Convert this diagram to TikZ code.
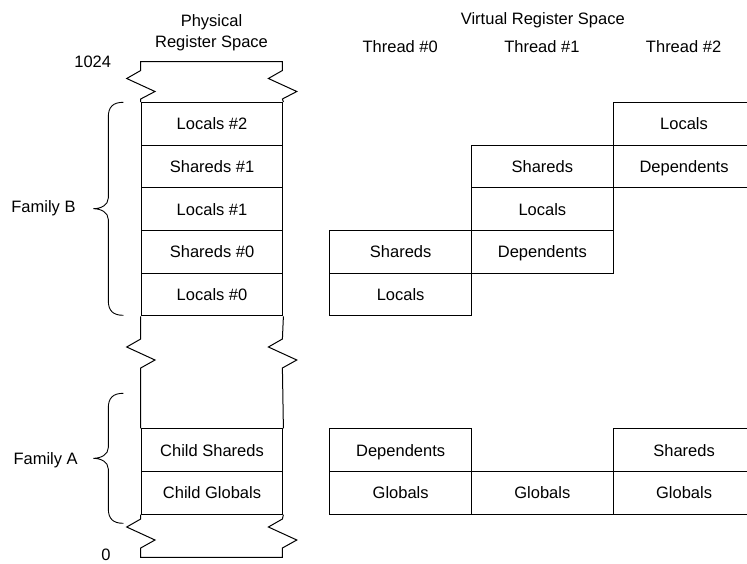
\documentclass[tikz,border=0pt]{standalone}
\usepackage{fontspec}
\setmainfont{Liberation Sans}
\begin{document}
\begin{tikzpicture}[x=1pt,y=-1pt,
  every node/.style={font=\fontsize{16.5}{20.5}\selectfont, text=black},
  cell/.style={draw, line width=1pt, minimum width=141.7pt, minimum height=42.67pt,
               inner sep=0pt, text height=11.9pt, text depth=0pt, anchor=north west},
  outline/.style={line width=1pt, line join=miter},
  brace/.style={line width=0.9pt},
  lbl/.style={inner sep=0pt, text height=11.9pt, text depth=0pt}]
\clip (0,0) rectangle (747,563);

% headers
\node[align=center] (phys) at (211.5,32.5) {Physical\\Register Space};
\node[lbl] (vrs) at (542.8,18.5) {Virtual Register Space};
\node[lbl] (th0) at (400.2,46.5) {Thread \#0};
\node[lbl] (th1) at (541.9,46.5) {Thread \#1};
\node[lbl] (th2) at (683.6,46.5) {Thread \#2};

% physical register space, family B
\node[cell] (pB1) at (140.7,102)    {Locals \#2};
\node[cell] (pB2) at (140.7,144.67) {Shareds \#1};
\node[cell] (pB3) at (140.7,187.33) {Locals \#1};
\node[cell] (pB4) at (140.7,230)    {Shareds \#0};
\node[cell] (pB5) at (140.7,272.67) {Locals \#0};
% physical register space, family A
\node[cell] (pA1) at (140.7,428.33) {Child Shareds};
\node[cell] (pA2) at (140.7,471)    {Child Globals};

% column outline with break marks
\draw[outline] (pB1.north west) -- (140.7,99) -- (155,91.5) -- (126.7,78.5) -- (140.7,70.5)
  -- (140.7,61.7) -- (282.4,61.7) -- (282.4,70.5) -- (268.4,78.5) -- (296.8,91.5)
  -- (282.4,99) -- (pB1.north east);
\draw[outline] (pB5.south west) -- (140.7,339) -- (126.7,347) -- (155,360) -- (140.7,368)
  -- (pA1.north west);
\draw[outline] (pB5.south east) -- (282.4,339) -- (268.4,347) -- (296.8,360) -- (282.4,368)
  -- (pA1.north east);
\draw[outline] (pA2.south west) -- (140.7,519) -- (126.7,527) -- (155,540) -- (140.7,548)
  -- (140.7,557.3) -- (282.4,557.3) -- (282.4,548) -- (296.8,540) -- (268.4,527)
  -- (282.4,519) -- (pA2.south east);

% virtual register space, family B
\node[cell] (v0a) at (329.3,230)    {Shareds};
\node[cell] (v0b) at (329.3,272.67) {Locals};
\node[cell] (v1a) at (471,144.67)   {Shareds};
\node[cell] (v1b) at (471,187.33)   {Locals};
\node[cell] (v1c) at (471,230)      {Dependents};
\node[cell] (v2a) at (612.7,102)    {Locals};
\node[cell] (v2b) at (612.7,144.67) {Dependents};
% virtual register space, family A
\node[cell] (v0c) at (329.3,428.33) {Dependents};
\node[cell] (v0d) at (329.3,471)    {Globals};
\node[cell] (v1d) at (471,471)      {Globals};
\node[cell] (v2c) at (612.7,428.33) {Shareds};
\node[cell] (v2d) at (612.7,471)    {Globals};

% address labels
\node[lbl] (top) at (92.7,61.7) {1024};
\node[lbl] (bot) at (106,554.6) {0};

% family braces
\node[lbl] (famB) at (43.5,206.5) {Family B};
\node[lbl] (famA) at (45.6,459) {Family A};
\coordinate (bBt) at (123.3,102.3);
\coordinate (bBm) at (93.3,208.7);
\coordinate (bBb) at (123.3,315.3);
\draw[brace] (bBt) .. controls (113,102.3) and (108.3,107) .. (108.3,117)
  -- (108.3,198) .. controls (108.3,205) and (101,208.7) .. (bBm)
  .. controls (101,208.7) and (108.3,212.4) .. (108.3,219.4)
  -- (108.3,300.6) .. controls (108.3,310.6) and (113,315.3) .. (bBb);
\coordinate (bAt) at (123.3,393.3);
\coordinate (bAm) at (93.3,458.3);
\coordinate (bAb) at (123.3,523.3);
\draw[brace] (bAt) .. controls (113,393.3) and (108.3,398) .. (108.3,408)
  -- (108.3,447.6) .. controls (108.3,454.6) and (101,458.3) .. (bAm)
  .. controls (101,458.3) and (108.3,462) .. (108.3,469)
  -- (108.3,508.6) .. controls (108.3,518.6) and (113,523.3) .. (bAb);
\end{tikzpicture}
\end{document}
